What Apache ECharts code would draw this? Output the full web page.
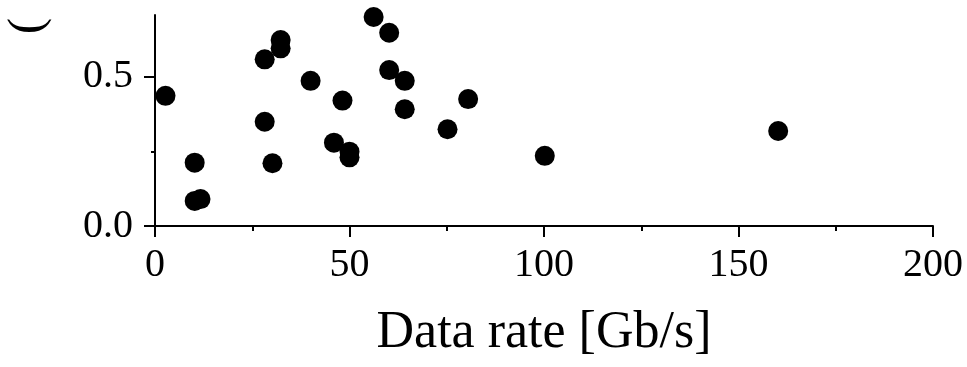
<!DOCTYPE html>
<html>
<head>
<meta charset="utf-8">
<script src="https://cdn.jsdelivr.net/npm/echarts@6/dist/echarts.min.js"></script>
<style>
html,body{margin:0;padding:0;background:#fff;}
#chart{width:967px;height:367px;}
</style>
</head>
<body>
<div id="chart"></div>
<script>
var dataRate = [2.7, 10.2, 10.2, 11.7, 28.2, 32.3, 32.3, 28.2, 30.2, 40.0, 48.2, 46.0, 50.0, 50.0, 56.2, 60.2, 60.2, 64.2, 64.2, 75.2, 80.5, 100.2, 160.2];
var yValues  = [0.436, 0.212, 0.084, 0.090, 0.558, 0.623, 0.595, 0.349, 0.210, 0.486, 0.420, 0.279, 0.249, 0.230, 0.700, 0.647, 0.522, 0.486, 0.391, 0.324, 0.425, 0.235, 0.318];
var xTicks = [0, 50, 100, 150, 200];
var yMajorTicks = [0, 0.5];
var yMinorTicks = [0.25];
var xName = 'Data rate [Gb/s]';
var yNameFragment = '(';

var FONT = 'Liberation Serif, Times New Roman, serif';
var points = dataRate.map(function (x, i) { return [x, yValues[i]]; });

var chart = echarts.init(document.getElementById('chart'), null, {renderer: 'canvas'});
var yMax = 0.7066;
chart.setOption({
  backgroundColor: '#ffffff',
  animation: false,
  grid: {left: 155, right: 34, top: 15, bottom: 141, containLabel: false},
  xAxis: {
    type: 'value', min: xTicks[0], max: xTicks[xTicks.length - 1], interval: 50,
    name: xName, nameLocation: 'middle', nameGap: 81,
    nameTextStyle: {fontFamily: FONT, fontSize: 52, color: '#000'},
    axisLine: {show: true, onZero: false, lineStyle: {color: '#000', width: 2}},
    axisTick: {show: true, inside: false, length: 11, lineStyle: {color: '#000', width: 2}},
    minorTick: {show: true, splitNumber: 2, length: 5, lineStyle: {color: '#000', width: 2}},
    axisLabel: {fontFamily: FONT, fontSize: 40, color: '#000', margin: 19,
      formatter: function (v) { return String(v); }},
    splitLine: {show: false}
  },
  yAxis: [{
    type: 'value', min: 0, max: yMax,
    axisLine: {show: true, onZero: false, lineStyle: {color: '#000', width: 2}},
    axisTick: {show: true, inside: false, length: 11, customValues: yMajorTicks, lineStyle: {color: '#000', width: 2}},
    axisLabel: {fontFamily: FONT, fontSize: 40, color: '#000', margin: 22, customValues: yMajorTicks,
      formatter: function (v) { return v.toFixed(1); }},
    splitLine: {show: false}
  }, {
    type: 'value', min: 0, max: yMax, position: 'left', offset: 0,
    axisLine: {show: false},
    axisTick: {show: true, inside: false, length: 4, customValues: yMinorTicks, lineStyle: {color: '#000', width: 2}},
    axisLabel: {show: false},
    splitLine: {show: false}
  }],
  series: [{
    type: 'scatter', yAxisIndex: 0, data: points, symbol: 'circle', symbolSize: 20,
    itemStyle: {color: '#000', opacity: 1}, clip: true, silent: true
  }],
  graphic: [{
    type: 'text', x: 28, y: 26, rotation: Math.PI / 2, z: 10,
    style: {text: yNameFragment, fontFamily: FONT, fontSize: 48, fill: '#000', align: 'center', verticalAlign: 'middle'}
  }, {
    type: 'rect', shape: {x: 0, y: 0, width: 140, height: 15}, z: 20,
    style: {fill: '#ffffff'}
  }]
});
</script>
</body>
</html>
